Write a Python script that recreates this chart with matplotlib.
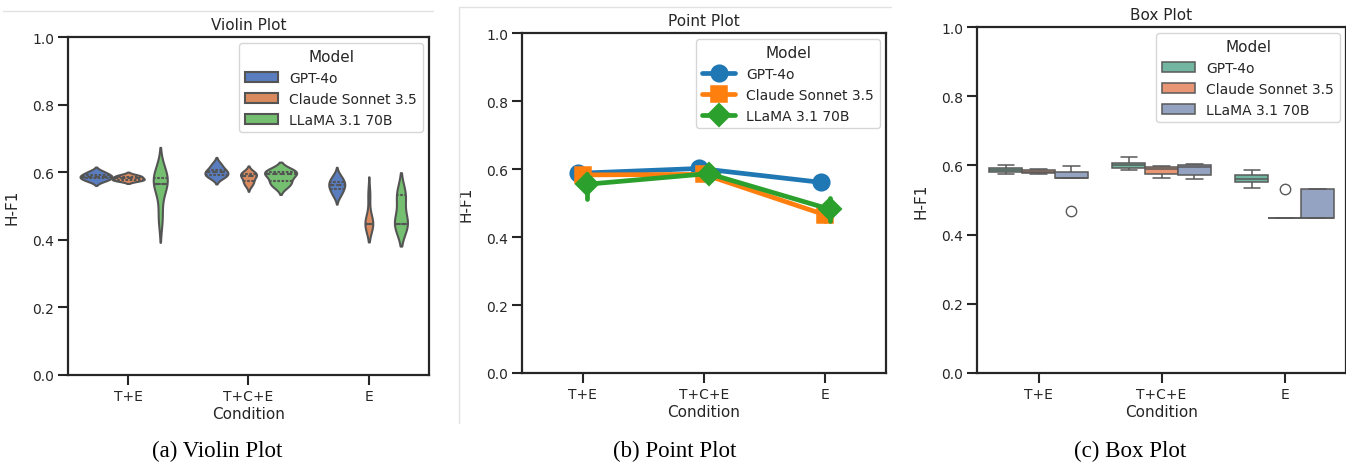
import numpy as np
import pandas as pd
import matplotlib
matplotlib.use("Agg")
import matplotlib.pyplot as plt
from matplotlib.lines import Line2D
import seaborn as sns

conditions = ["T+E", "T+C+E", "E"]
models = ["GPT-4o", "Claude Sonnet 3.5", "LLaMA 3.1 70B"]

# five runs per (model, condition)
gpt_te = [0.575, 0.582, 0.587, 0.592, 0.601]
gpt_tce = [0.586, 0.592, 0.600, 0.607, 0.623]
gpt_e = [0.534, 0.551, 0.562, 0.571, 0.586]

claude_te = [0.576, 0.577, 0.582, 0.587, 0.591]
claude_tce = [0.564, 0.575, 0.590, 0.594, 0.598]
claude_e = [0.448, 0.448, 0.448, 0.448, 0.532]

llama_te = [0.467, 0.564, 0.564, 0.582, 0.599]
llama_tce = [0.561, 0.573, 0.594, 0.601, 0.603]
llama_e = [0.448, 0.448, 0.448, 0.532, 0.532]

y_ticks = [0.0, 0.2, 0.4, 0.6, 0.8, 1.0]
captions = ["(a) Violin Plot", "(b) Point Plot", "(c) Box Plot"]

TXT = "#262626"


def _long_frame():
    runs = {
        "GPT-4o": [gpt_te, gpt_tce, gpt_e],
        "Claude Sonnet 3.5": [claude_te, claude_tce, claude_e],
        "LLaMA 3.1 70B": [llama_te, llama_tce, llama_e],
    }
    rows = []
    for model in models:
        for cond, vals in zip(conditions, runs[model]):
            for v in vals:
                rows.append({"Model": model, "Condition": cond, "H-F1": v})
    return pd.DataFrame(rows)


def _style(ax, title):
    ax.set_ylim(0, 1)
    ax.set_yticks(y_ticks)
    ax.set_xlim(-0.5, 2.5)
    ax.set_title(title, fontsize=11, color=TXT, pad=6)
    ax.set_xlabel("Condition", fontsize=11, color=TXT, labelpad=2)
    ax.set_ylabel("H-F1", fontsize=11, color=TXT, labelpad=9)
    ax.tick_params(length=7, width=1.5, labelsize=10, colors=TXT, pad=3)
    for s in ax.spines.values():
        s.set_linewidth(1.6)
        s.set_color(TXT)
    sns.move_legend(ax, "upper right", title="Model", fontsize=10,
                    title_fontsize=11, borderaxespad=0.45, handlelength=2.4)


df = _long_frame()
sns.set_style("ticks")

fig = plt.figure(figsize=(13.46, 4.64), dpi=100)
fig.patch.set_facecolor("white")

# (a) violins
ax1 = fig.add_axes([68 / 1346, 88 / 464, 361 / 1346, 338 / 464])
sns.violinplot(data=df, x="Condition", y="H-F1", hue="Model", order=conditions,
               hue_order=models, palette="muted", inner="quart", linewidth=1.5,
               ax=ax1)
_style(ax1, "Violin Plot")

# (b) point estimates with bootstrap CI
ax2 = fig.add_axes([522 / 1346, 90 / 464, 364 / 1346, 340 / 464])
sns.pointplot(data=df, x="Condition", y="H-F1", hue="Model", order=conditions,
              hue_order=models, palette=["#1f77b4", "#ff7f0e", "#2ca02c"],
              markers=["o", "s", "D"], dodge=True, seed=0,
              markersize=10.5, linewidth=3.4, ax=ax2)
_style(ax2, "Point Plot")

# (c) boxes
ax3 = fig.add_axes([977 / 1346, 90 / 464, 369 / 1346, 346 / 464])
sns.boxplot(data=df, x="Condition", y="H-F1", hue="Model", order=conditions,
            hue_order=models, palette="Set2", linewidth=1.1,
            flierprops=dict(markersize=7.5), ax=ax3)
_style(ax3, "Box Plot")

# faint screenshot borders
fig.add_artist(Line2D([3 / 1346, 433 / 1346], [1 - 12 / 464] * 2,
                      color="#e2e2e2", lw=1))
fig.add_artist(Line2D([459 / 1346, 891 / 1346], [1 - 8 / 464] * 2,
                      color="#e2e2e2", lw=1))
fig.add_artist(Line2D([459 / 1346] * 2, [1 - 8 / 464, 1 - 424 / 464],
                      color="#e2e2e2", lw=1))

for cx, cap in zip([217, 675, 1130], captions):
    fig.text(cx / 1346, 1 - 451 / 464, cap, ha="center", va="center",
             fontsize=16.5, family="Liberation Serif", color="black")

fig.savefig("out.png", dpi=100, facecolor="white")
